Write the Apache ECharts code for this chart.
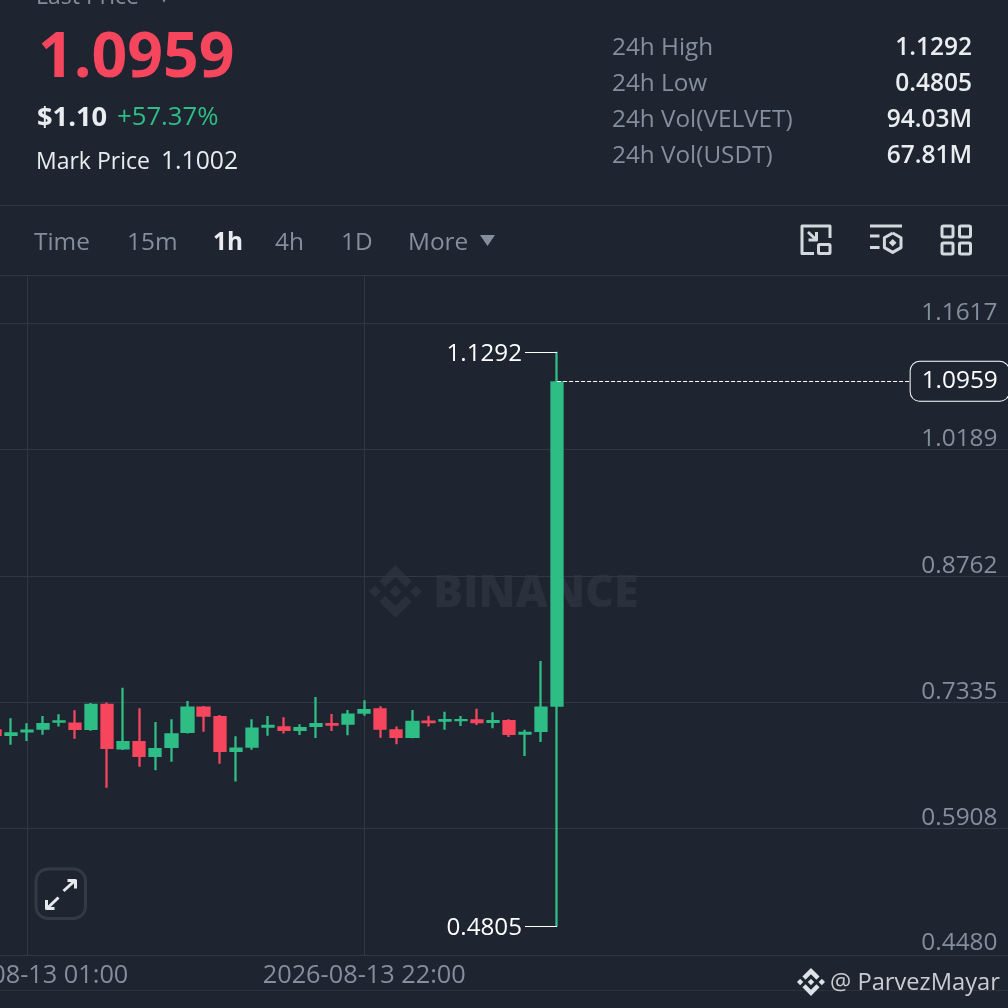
<!DOCTYPE html>
<html><head><meta charset="utf-8">
<style>html,body{margin:0;padding:0;background:#1e2530}#c{width:1008px;height:1008px}</style>
<script src="https://cdn.jsdelivr.net/npm/echarts@6/dist/echarts.min.js"></script>
</head><body><div id="c"></div>
<script>
const candleTimes = ['2026-08-12 23:00','2026-08-13 00:00','2026-08-13 01:00','2026-08-13 02:00','2026-08-13 03:00','2026-08-13 04:00','2026-08-13 05:00','2026-08-13 06:00','2026-08-13 07:00','2026-08-13 08:00','2026-08-13 09:00','2026-08-13 10:00','2026-08-13 11:00','2026-08-13 12:00','2026-08-13 13:00','2026-08-13 14:00','2026-08-13 15:00','2026-08-13 16:00','2026-08-13 17:00','2026-08-13 18:00','2026-08-13 19:00','2026-08-13 20:00','2026-08-13 21:00','2026-08-13 22:00','2026-08-13 23:00','2026-08-14 00:00','2026-08-14 01:00','2026-08-14 02:00','2026-08-14 03:00','2026-08-14 04:00','2026-08-14 05:00','2026-08-14 06:00','2026-08-14 07:00','2026-08-14 08:00','2026-08-14 09:00','2026-08-14 10:00'];
const emptySlots = ['','','','','','','','','','','','','','','','','','','','','','','','','','','',''];
const opens  = [.7029,.6954,.6995,.7025,.7104,.7104,.7021,.7315,.6803,.6897,.6716,.6818,.6987,.7284,.7179,.6773,.6821,.7047,.7063,.7010,.7055,.7100,.7081,.7205,.7266,.7029,.6931,.7126,.7115,.7120,.7142,.7100,.7134,.6968,.6999,.7284];
const closes = [.6954,.6995,.7025,.7100,.7131,.7021,.7315,.6807,.6897,.6716,.6818,.6984,.7284,.7171,.6773,.6821,.7047,.7078,.7010,.7055,.7100,.7070,.7205,.7258,.7025,.6931,.7123,.7097,.7145,.7145,.7097,.7134,.6965,.6999,.7284,1.0959];
const lows   = [.6931,.6855,.6897,.6968,.7059,.6923,.7013,.6370,.6796,.6607,.6566,.6663,.6980,.7002,.6641,.6438,.6799,.6957,.6980,.6965,.6931,.7010,.6961,.7183,.6934,.6860,.6928,.7059,.7025,.7066,.7078,.7040,.6942,.6728,.6886,.4805];
const highs  = [.7055,.7153,.7097,.7179,.7199,.7244,.7326,.7330,.7499,.7266,.7112,.7142,.7349,.7292,.7191,.6950,.7142,.7179,.7165,.7086,.7394,.7202,.7247,.7357,.7289,.7059,.7247,.7183,.7228,.7179,.7262,.7221,.7142,.7025,.7800,1.1292];
const yTicks = [0.4480,0.5908,0.7335,0.8762,1.0189,1.1617];
const xTickLabels = ['2026-08-13 01:00','2026-08-13 22:00'];
const lastPrice = 1.0959, dayHigh = 1.1292, dayLow = 0.4805;
const statNames = ['24h High','24h Low','24h Vol(VELVET)','24h Vol(USDT)'];
const statValues = ['1.1292','0.4805','94.03M','67.81M'];
const tabs = ['Time','15m','1h','4h','1D','More'];

const BG='#1e2530',GRID='#313844',GREEN='#2ebd85',RED='#f6465d',TXT='#eaecef',GRAY='#848e9c',ICON='#d5d9de';
const FONT='"Open Sans", "Noto Sans", sans-serif';
const LOGO=[
 [[38.73,53.2],[63.32,28.62],[87.92,53.22],[102.22,38.91],[63.32,0],[24.43,38.89]],
 [[0,63.31],[14.3,49],[28.61,63.31],[14.3,77.61]],
 [[38.73,73.41],[63.32,98],[87.92,73.4],[102.23,87.69],[63.32,126.61],[24.43,87.72]],
 [[98.28,63.31],[112.58,49],[126.89,63.31],[112.58,77.61]],
 [[77.83,63.3],[63.32,48.78],[48.81,63.28],[63.32,77.78]]];
const logo=(x,y,size,fill,z)=>LOGO.map(poly=>({type:'polygon',silent:true,z,shape:{points:poly.map(p=>[x+p[0]*size/126.89,y+p[1]*size/126.89])},style:{fill}}));

const cats = candleTimes.concat(emptySlots);
// The body outline adds half a stroke on each side, so the body edges are pulled in by that amount.
const strokeInset = 0.0012;
const candleData = opens.map((o,i)=>{
  const c=closes[i], s=c>=o?1:-1;
  return [o+s*strokeInset,c-s*strokeInset,lows[i],highs[i]];
});

const T=(x,y,text,size,fill,weight,align)=>({type:'text',silent:true,z:5,style:{x,y,text,fill,font:`${weight||400} ${size}px ${FONT}`,textAlign:align||'left',textVerticalAlign:'middle'}});
const PL=(pts,stroke,w)=>({type:'polyline',silent:true,z:5,shape:{points:pts},style:{stroke:stroke||ICON,lineWidth:w||3,fill:null,lineJoin:'round'}});
const RR=(x,y,width,height,r,stroke,w)=>({type:'rect',silent:true,z:5,shape:{x,y,width,height,r},style:{stroke:stroke||ICON,lineWidth:w||3,fill:null}});
const HL=(y,c)=>({type:'line',silent:true,z:0,shape:{x1:0,y1:y,x2:1008,y2:y},style:{stroke:c||GRID,lineWidth:1}});

const tabX=[34,127,213,275,341,408];
const graphics=[
  HL(205.5),HL(275.5),HL(990.5,'#2b323d'),
  T(36,-3,'Last Price',23,GRAY),
  T(160,-2,'▾',16,GRAY),
  T(38,59,'1.0959',62.5,RED,700),
  T(37,118,'$1.10',27.3,TXT,700),
  T(117,118,'+57.37%',25.7,GREEN,500),
  T(36,162,'Mark Price',23,TXT),
  T(161,162,'1.1002',24.7,TXT),
  ...statNames.map((s,i)=>T(612,48+i*36,s,24.3,GRAY)),
  ...statValues.map((s,i)=>T(972,48+i*36,s,24.5,TXT,600,'right')),
  ...tabs.map((s,i)=>T(tabX[i],243,s,24.4,i==2?TXT:GRAY,i==2?700:400)),
  {type:'polygon',silent:true,z:5,shape:{points:[[480,235],[495,235],[487.5,246]]},style:{fill:GRAY}},
  PL([[814,253.5],[802,253.5],[802,226],[830,226],[830,238]]),RR(818.5,244.5,11.5,9,1),
  PL([[808,232],[816.5,240]]),PL([[816.5,232],[816.5,240],[808.5,240]]),
  PL([[870,226],[902,226]]),PL([[870,236],[879.5,236]]),PL([[870,247.5],[879.5,247.5]]),
  PL([[892.7,233],[901,237.8],[901,247.6],[892.7,252.4],[884.4,247.6],[884.4,237.8],[892.7,233]]),
  {type:'polygon',silent:true,z:5,shape:{points:[[892.7,239],[896.5,242.7],[892.7,246.4],[888.9,242.7]]},style:{fill:ICON}},
  RR(942,226,11,11,1.5),RR(959.5,226,11,11,1.5),RR(942,243,11,11,1.5),RR(959.5,243,11,11,1.5),
  RR(36,869,49.5,49.5,12,'#333a46',3),
  PL([[63.5,891],[74.5,881]],'#e6e8ea',3),PL([[67.5,880.5],[75.5,880.5],[75.5,888.5]],'#e6e8ea',3),
  PL([[58.5,897.5],[47.5,908]],'#e6e8ea',3),PL([[46.5,900],[46.5,908.5],[54.5,908.5]],'#e6e8ea',3),
  ...logo(369,565,53,'#2a313c',-10),
  {type:'text',silent:true,z:-10,style:{x:433,y:594,text:'BINANCE',fill:'#2a313c',font:`800 44.5px ${FONT}`,textVerticalAlign:'middle'}},
  ...logo(797,968,28,'#dfe2e6',6),
  {type:'text',silent:true,z:6,style:{x:830,y:983,text:'@ ParvezMayar',fill:'#c9cdd2',font:`400 23.7px ${FONT}`,textVerticalAlign:'middle',shadowColor:'#000',shadowBlur:2}}
];

const chart=echarts.init(document.getElementById('c'),null,{renderer:'canvas',width:1008,height:1008});
const extLabel=p=>({show:true,position:'start',formatter:`{a|${p}}`,distance:0,
  rich:{a:{color:'#fff',fontFamily:FONT,fontSize:24.2,padding:[4,3,0,0]}}});
chart.setOption({
  animation:false,
  backgroundColor:BG,
  graphic:graphics,
  grid:{left:-13.4,top:275,bottom:53,width:1028.5,outerBoundsMode:'none',containLabel:false},
  xAxis:{type:'category',data:cats,
    axisLine:{show:true,lineStyle:{color:GRID,width:1}},
    axisTick:{show:false,alignWithLabel:true,interval:(i,v)=>xTickLabels.includes(v)},
    axisLabel:{interval:(i,v)=>xTickLabels.includes(v),color:GRAY,fontFamily:FONT,fontSize:25.3,margin:8,verticalAlign:'top',hideOverlap:false},
    splitLine:{show:true,alignWithLabel:true,interval:(i,v)=>xTickLabels.includes(v),lineStyle:{color:GRID,width:1}}},
  yAxis:{type:'value',position:'right',min:0.448,max:1.2159,scale:true,
    axisLine:{show:false},
    axisTick:{show:false,customValues:yTicks},
    axisLabel:{inside:true,customValues:yTicks,margin:17.6,color:GRAY,fontFamily:FONT,fontSize:24.4,align:'right',verticalAlign:'bottom',
      formatter:v=>v<0.5?`{last|${v.toFixed(4)}}`:`{n|${v.toFixed(4)}}`,
      rich:{n:{color:GRAY,fontFamily:FONT,fontSize:24.4,lineHeight:20},last:{color:GRAY,fontFamily:FONT,fontSize:24.4,lineHeight:20,padding:[0,0,3,0]}}},
    splitLine:{show:true,lineStyle:{color:GRID,width:1}}},
  series:[{type:'candlestick',data:candleData,barWidth:11.7,z:3,
    itemStyle:{color:GREEN,color0:RED,borderColor:GREEN,borderColor0:RED,borderWidth:2.3},
    markLine:{silent:true,symbol:'none',animation:false,
      data:[
        [{coord:[33,dayHigh],lineStyle:{color:'#fff',width:1,type:'solid'},label:extLabel(dayHigh.toFixed(4))},{coord:[35,dayHigh]}],
        [{coord:[33,dayLow],lineStyle:{color:'#fff',width:1,type:'solid'},label:extLabel(dayLow.toFixed(4))},{coord:[35,dayLow]}],
        [{coord:[35,lastPrice],lineStyle:{color:'#fff',width:1,type:'dashed'},
          label:{show:true,position:'end',formatter:lastPrice.toFixed(4),color:'#fff',fontFamily:FONT,fontSize:24.4,backgroundColor:BG,borderColor:'#fff',borderWidth:1,borderRadius:9,padding:[9,11,6,11],distance:0}},
         {coord:[57.3,lastPrice]}]
      ]}
  }]
});
</script></body></html>
